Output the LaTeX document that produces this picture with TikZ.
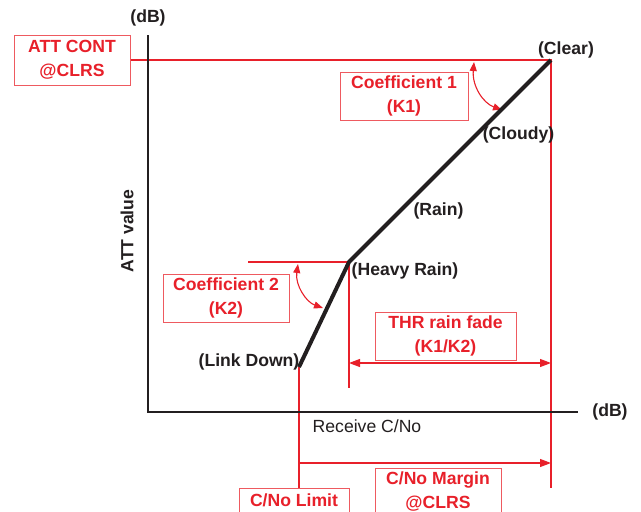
\documentclass[tikz,border=0pt]{standalone}
\usepackage{fontspec}
\setmainfont{Liberation Sans}
\usetikzlibrary{arrows.meta}
\definecolor{ared}{HTML}{E8202A}
\definecolor{boxred}{HTML}{EE5A60}
\definecolor{ink}{HTML}{231F20}
\tikzset{
  lab/.style={font=\fontsize{17.6}{24}\selectfont\bfseries, text=ink, inner sep=0pt},
  redtxt/.style={font=\fontsize{17.6}{24}\selectfont\bfseries, text=ared, align=center},
  redbox/.style={redtxt, draw=boxred, line width=1pt, inner sep=0pt},
  redline/.style={draw=ared, line width=1.1pt},
  dimarrow/.style={redline, {Triangle[length=11pt,width=8pt]}-{Triangle[length=11pt,width=8pt]}},
  axis/.style={draw=ink, line width=2.6pt},
  curve/.style={draw=ink, line width=4pt}
}
\begin{document}
\begin{tikzpicture}[x=1pt,y=-1pt]
\clip (0,0) rectangle (641,512);
\fill[white] (0,0) rectangle (641,512);
% key points
\coordinate (origin) at (148,412);
\coordinate (ytop) at (148,35);
\coordinate (xend) at (578,412);
\coordinate (clear) at (551,60);
\coordinate (heavy) at (349,262);
\coordinate (down) at (299,367);
\coordinate (clearbot) at (551,488);
\coordinate (heavybot) at (349,388);
\coordinate (k2ref) at (248,262);
\coordinate (thrL) at (349,363);
\coordinate (thrR) at (551,363);
\coordinate (marL) at (299,463);
\coordinate (marR) at (551,463);
\coordinate (k1a) at (474,62);
\coordinate (k1b) at (502,110);
\coordinate (k2a) at (298,264);
\coordinate (k2b) at (323,308);
% boxes
\node[redbox, minimum width=116pt, minimum height=50pt] (att) at (72,60) {ATT CONT\\@CLRS};
\node[redbox, minimum width=128pt, minimum height=48pt] (k1) at (404,96) {Coefficient 1\\(K1)};
\node[redbox, minimum width=126pt, minimum height=48pt] (k2) at (226,298) {Coefficient 2\\(K2)};
\node[redbox, minimum width=141pt, minimum height=48pt] (thr) at (445.5,336) {THR rain fade\\(K1/K2)};
\node[redbox, minimum width=110pt, minimum height=48pt, text height=18pt, text depth=30pt] (limit) at (294,512) {C/No Limit};
\node[redbox, minimum width=126pt, minimum height=48pt] (margin) at (438,492) {C/No Margin\\@CLRS};
% red guide lines
\draw[redline] (att.east) -- (clear) -- (clearbot);
\draw[redline] (k2ref) -- (heavy) -- (heavybot);
\draw[redline] (down) -- (down |- limit.north);
\draw[dimarrow] (thrL) -- (thrR);
\draw[dimarrow, -{Triangle[length=11pt,width=8pt]}] (marL) -- (marR);
\draw[redline, {Triangle[length=9pt,width=7pt]}-{Triangle[length=9pt,width=7pt]}] (k1a) .. controls (472,86) and (483,103) .. (k1b);
\draw[redline, {Triangle[length=9pt,width=7pt]}-{Triangle[length=9pt,width=7pt]}] (k2a) .. controls (295,285) and (306,302) .. (k2b);
% axes
\draw[axis] (ytop) -- (origin) -- (xend);
% curve
\draw[curve, line join=round] (down) -- (heavy) -- (clear);
% labels
\node[lab] (dbtop) at (148,18) {(dB)};
\node[lab] (dbright) at (610,412) {(dB)};
\node[lab, rotate=90] (attv) at (127,231) {ATT value};
\node[lab] (lclear) at (566,50) {(Clear)};
\node[lab] (lcloudy) at (518.5,135) {(Cloudy)};
\node[lab] (lrain) at (438.5,211) {(Rain)};
\node[lab] (lheavy) at (405,271) {(Heavy Rain)};
\node[lab] (ldown) at (249,362) {(Link Down)};
\node[lab, font=\fontsize{17.6}{24}\selectfont] (lrx) at (367,426) {Receive C/No};
\end{tikzpicture}
\end{document}
